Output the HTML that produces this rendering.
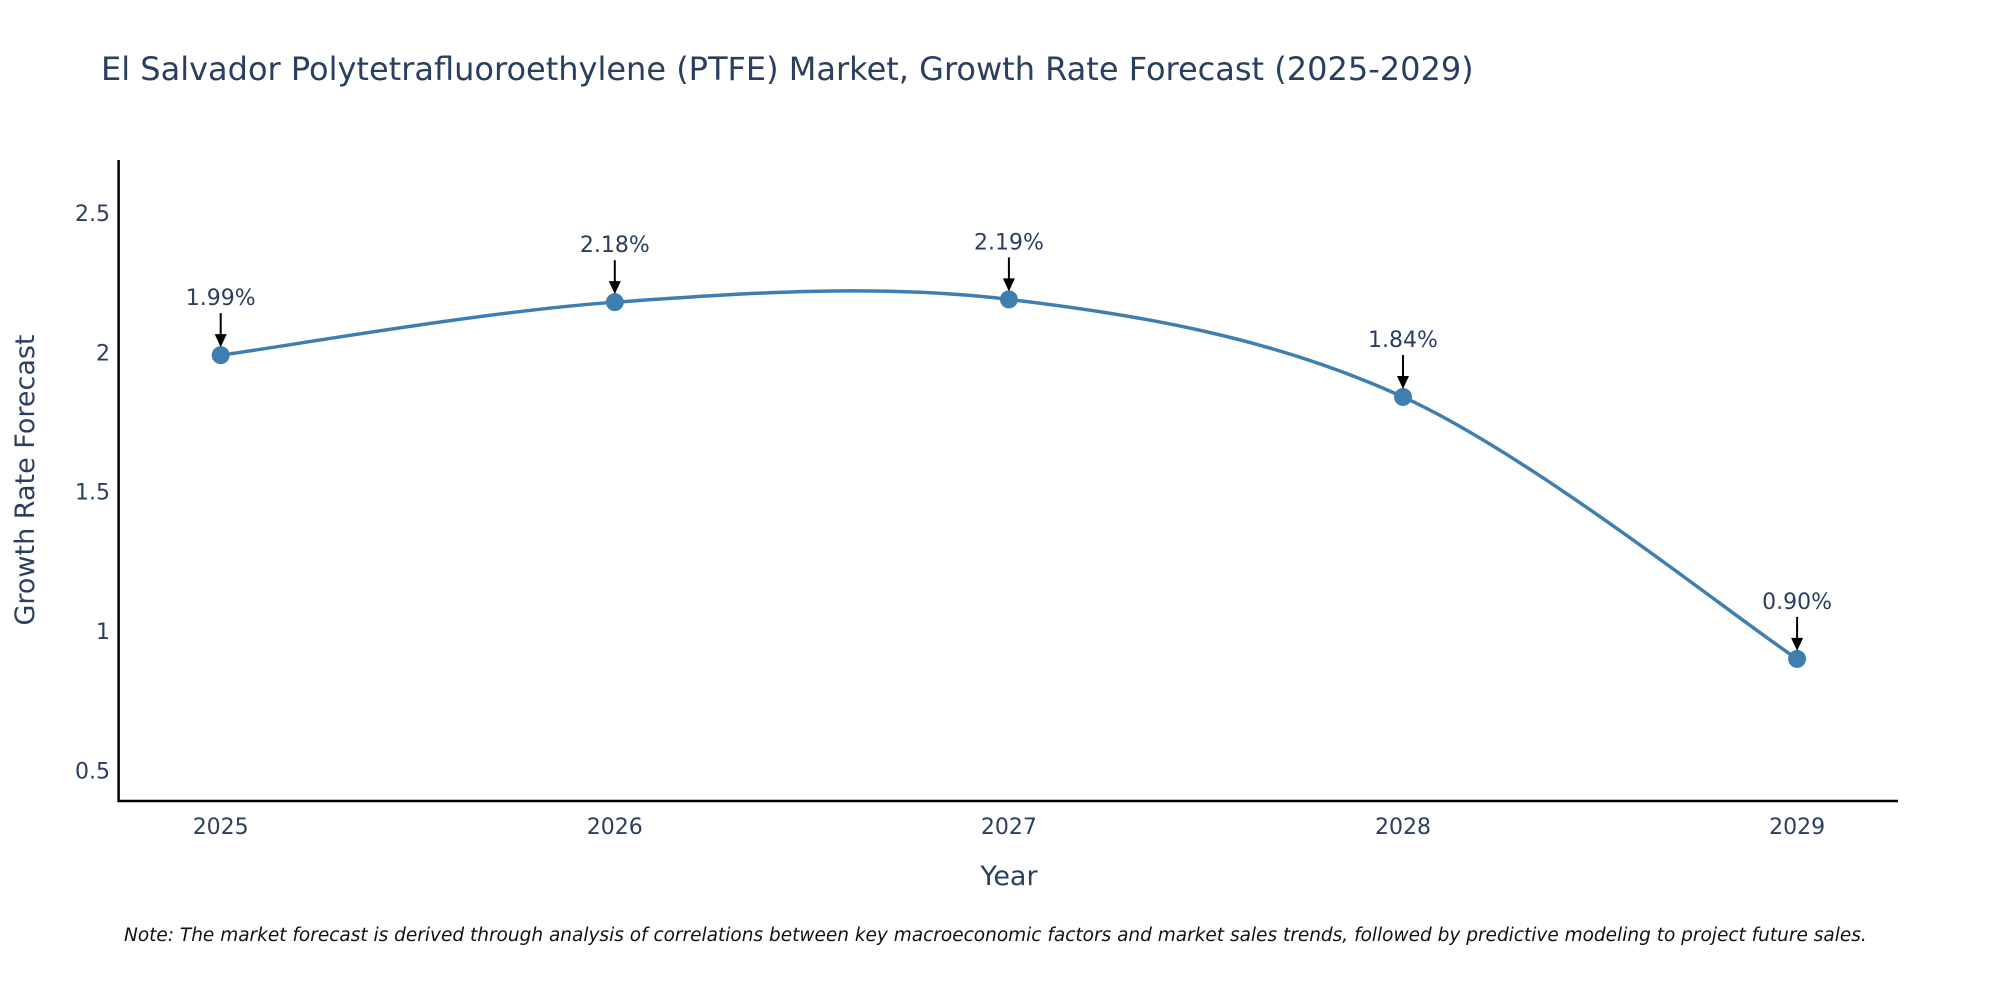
<!DOCTYPE html>
<html><head><meta charset="utf-8"><style>
body{margin:0;background:#fff;width:2000px;height:1000px;overflow:hidden;font-family:"DejaVu Sans","Liberation Sans",sans-serif}
svg text{font-family:"DejaVu Sans","Liberation Sans",sans-serif}
</style></head><body>
<svg id="chart" width="2000" height="1000" xmlns="http://www.w3.org/2000/svg">
<text x="101" y="80" font-size="32" fill="#2a3f5f">El Salvador Polytetrafluoroethylene (PTFE) Market, Growth Rate Forecast (2025-2029)</text>
<g id="yticks"></g>
<g id="xticks"></g>
<line x1="118.6" y1="160" x2="118.6" y2="802" stroke="#000" stroke-width="2.5"/>
<line x1="117.5" y1="801" x2="1898" y2="801" stroke="#000" stroke-width="2.5"/>
<text transform="translate(34,480) rotate(-90)" text-anchor="middle" font-size="27" fill="#2a3f5f">Growth Rate Forecast</text>
<text x="1009" y="885" text-anchor="middle" font-size="27" fill="#2a3f5f">Year</text>
<path id="line" fill="none" stroke="#3f7fb0" stroke-width="3.5"/>
<g id="marks"></g>
<g id="annots"></g>
<text x="124" y="941" font-size="18.5" font-style="italic" fill="#111">Note: The market forecast is derived through analysis of correlations between key macroeconomic factors and market sales trends, followed by predictive modeling to project future sales.</text>
</svg>
<script>
const categories = ["2025","2026","2027","2028","2029"];
const values = [1.99, 2.18, 2.19, 1.84, 0.90];
const labels = ["1.99%","2.18%","2.19%","1.84%","0.90%"];
const yTicks = [0.5, 1, 1.5, 2, 2.5];
const yTickLabels = ["0.5","1","1.5","2","2.5"];
const NS="http://www.w3.org/2000/svg";
const xMin=220.7, xStep=394.1;
function xs(i){return xMin+i*xStep;}
function ys(v){return 213-(v-2.5)*278.7;}
function mk(t,a,p){const e=document.createElementNS(NS,t);for(const k in a)e.setAttribute(k,a[k]);p.appendChild(e);return e;}
const yt=document.getElementById('yticks');
yTicks.forEach((v,i)=>{const t=mk('text',{x:110,y:ys(v)+8,'text-anchor':'end','font-size':22,fill:'#2a3f5f'},yt);


t.textContent=yTickLabels[i];});
const xt=document.getElementById('xticks');
categories.forEach((c,i)=>{const t=mk('text',{x:xs(i),y:834,'text-anchor':'middle','font-size':22,fill:'#2a3f5f'},xt);


t.textContent=c;});
const pts=values.map((v,i)=>[xs(i),ys(v)]);
let d='M'+pts[0][0]+','+pts[0][1];const s=0.5/3*2;
for(let i=0;i<pts.length-1;i++){const p0=pts[i-1]||pts[i],p1=pts[i],p2=pts[i+1],p3=pts[i+2]||p2;
const c1=[p1[0]+(p2[0]-p0[0])*s/2,p1[1]+(p2[1]-p0[1])*s/2],c2=[p2[0]-(p3[0]-p1[0])*s/2,p2[1]-(p3[1]-p1[1])*s/2];
d+=` C${c1[0]},${c1[1]} ${c2[0]},${c2[1]} ${p2[0]},${p2[1]}`;}
document.getElementById('line').setAttribute('d',d);
const mg=document.getElementById('marks'),ag=document.getElementById('annots');
pts.forEach((p,i)=>{const c=mk('circle',{cx:p[0],cy:p[1],r:9,fill:'#3f7fb0'},mg);


const l=mk('line',{x1:p[0],y1:p[1]-42,x2:p[0],y2:p[1]-20,stroke:'#000','stroke-width':2},ag);


const h=mk('polygon',{points:`${p[0]-6},${p[1]-21} ${p[0]+6},${p[1]-21} ${p[0]},${p[1]-8}`,fill:'#000'},ag);


const t=mk('text',{x:p[0],y:p[1]-50,'text-anchor':'middle','font-size':22,fill:'#2a3f5f'},ag);


t.textContent=labels[i];});
</script>
</body></html>
